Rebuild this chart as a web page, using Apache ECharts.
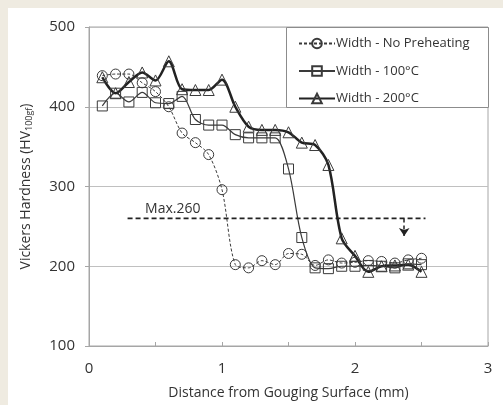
<!DOCTYPE html>
<html><head><meta charset="utf-8">
<script src="https://cdn.jsdelivr.net/npm/echarts@6/dist/echarts.min.js"></script>
<style>html,body{margin:0;padding:0;background:#fff}#c{width:503px;height:405px}</style>
</head><body><div id="c"></div>
<script>
const xVals = [0.1,0.2,0.3,0.4,0.5,0.6,0.7,0.8,0.9,1.0,1.1,1.2,1.3,1.4,1.5,1.6,1.7,1.8,1.9,2.0,2.1,2.2,2.3,2.4,2.5];
const noPreheat = [439,441,441,430,419,400,367,355,340,296,202,198,207,202,216,215,201,208,204,205,207,206,204,208,210];
const w100 = [401,417,406,418,405,404,413,384,377,377,365,361,361,361,322,236,198,197,200,200,201,200,198,203,202];
const w200 = [437,417,431,443,433,457,422,421,421,434,400,375,371,371,368,355,352,327,235,213,193,200,201,202,193];
const seriesNames = ['Width - No Preheating','Width - 100\u00B0C','Width - 200\u00B0C'];
const xTicks = [0,1,2,3];
const yTicks = [100,200,300,400,500];
const maxLimit = 260;
const maxLineX = [0.29,2.53];
const arrowX = 2.37, arrowEnd = 238;
const maxLabelPos = [0.63, 272];

function pairs(ys){return xVals.map((x,i)=>[x,ys[i]]);}
const dark = '#3a3a3a';
const font = 'Open Sans';
const chart = echarts.init(document.getElementById('c'));
chart.setOption({
  backgroundColor:'#fff',
  animation:false,
  textStyle:{fontFamily:font,color:'#333'},
  graphic:[
    {type:'rect',left:0,top:0,shape:{width:503,height:8},style:{fill:'#efebe1'},z:100},
    {type:'rect',left:0,top:0,shape:{width:8,height:405},style:{fill:'#efebe1'},z:100},
    {type:'rect',left:286,top:27,shape:{width:202,height:80},style:{fill:'#fff',stroke:'#8c8c8c',lineWidth:1},z:5}
  ],
  grid:{left:89,right:15,top:27,bottom:58,show:true,borderColor:'#a6a6a6',borderWidth:1},
  legend:{
    data:seriesNames, orient:'vertical', left:293, top:32,
    itemWidth:36, itemHeight:12, itemGap:14.5, z:10,
    textStyle:{fontFamily:font,fontSize:13,color:'#333',padding:[0,0,0,-4]}
  },
  xAxis:{
    type:'value', min:0, max:3, interval:0.5,
    name:'Distance from Gouging Surface (mm)', nameLocation:'middle', nameGap:40,
    nameTextStyle:{fontFamily:font,fontSize:14,color:'#333'},
    axisLine:{lineStyle:{color:'#a6a6a6'}},
    axisTick:{show:true,inside:true,length:4,lineStyle:{color:'#a6a6a6'}},
    axisLabel:{fontFamily:font,fontSize:15,color:'#333',margin:15,
      formatter:v=> xTicks.includes(v)? String(v):''},
    splitLine:{show:false}
  },
  yAxis:{
    type:'value', min:100, max:500, interval:100,
    name:'{a|Vickers Hardness (HV}{s|100gf}{a|)}', nameLocation:'middle', nameGap:55,
    nameTextStyle:{rich:{a:{fontFamily:font,fontSize:14,color:'#333'},s:{fontFamily:font,fontSize:9,color:'#333',verticalAlign:'bottom',padding:[6,0,0,0]}}},
    axisLine:{show:true,lineStyle:{color:'#a6a6a6'}},
    axisTick:{show:true,length:4,lineStyle:{color:'#a6a6a6'}},
    axisLabel:{fontFamily:font,fontSize:15,color:'#333',margin:14,
      formatter:v=> yTicks.includes(v)? String(v):''},
    splitLine:{lineStyle:{color:'#c0c0c0',width:1.2}}
  },
  series:[
    {name:seriesNames[0],type:'line',data:pairs(noPreheat),smooth:0.3,
     symbol:'circle',symbolSize:10,
     lineStyle:{color:dark,width:1,type:[3,2]},
     itemStyle:{color:'rgba(255,255,255,0)',borderColor:dark,borderWidth:1}},
    {name:seriesNames[1],type:'line',data:pairs(w100),smooth:0.3,
     symbol:'rect',symbolSize:10,
     lineStyle:{color:dark,width:1.2},
     itemStyle:{color:'rgba(255,255,255,0)',borderColor:dark,borderWidth:1}},
    {name:seriesNames[2],type:'line',data:pairs(w200),smooth:0.3,
     symbol:'triangle',symbolSize:11,
     lineStyle:{color:'#222',width:2.5},
     itemStyle:{color:'rgba(255,255,255,0)',borderColor:dark,borderWidth:1}},
    {name:'max',type:'line',data:[[maxLineX[0],maxLimit],[maxLineX[1],maxLimit]],
     symbol:'none',lineStyle:{color:'#222',width:1.8,type:[5,3]},silent:true,
     markLine:{silent:true,symbol:['none','arrow'],symbolSize:[8,8],
       lineStyle:{color:'#222',width:1.5,type:[4,3]},label:{show:false},
       data:[[{coord:[arrowX,maxLimit]},{coord:[arrowX,arrowEnd]}]]},
     markPoint:{symbol:'rect',symbolSize:1,silent:true,
       itemStyle:{color:'rgba(0,0,0,0)'},
       label:{show:true,position:'inside',formatter:'Max.260',fontFamily:font,fontSize:14,color:'#333'},
       data:[{coord:maxLabelPos}]}}
  ]
});
</script></body></html>
